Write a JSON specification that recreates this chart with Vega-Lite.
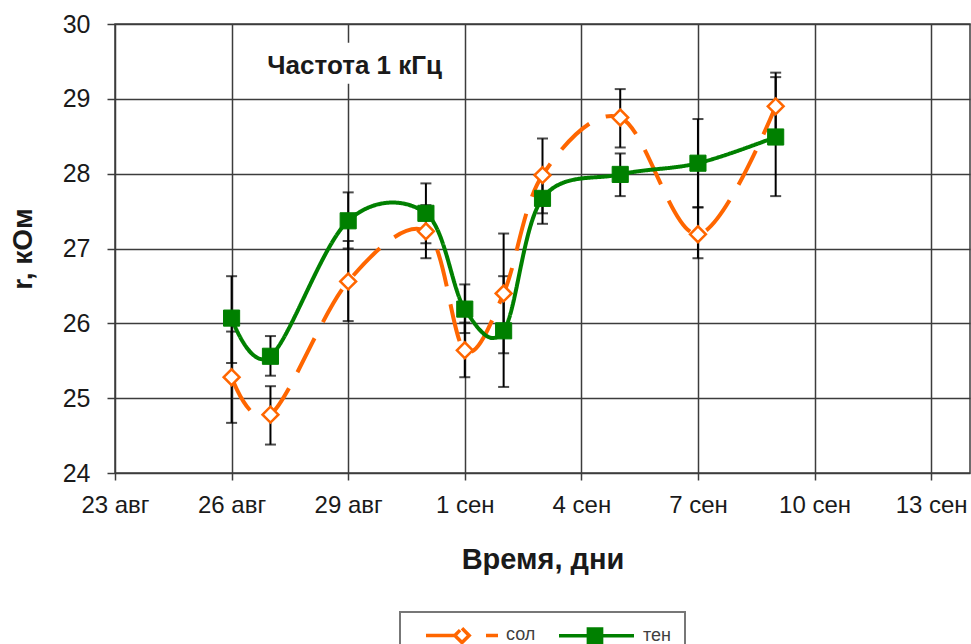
{
  "$schema": "https://vega.github.io/schema/vega-lite/v6.json",
  "width": 855,
  "height": 449,
  "autosize": {"type": "none"},
  "padding": {"left": 115, "top": 24, "right": 1, "bottom": 171},
  "background": "white",
  "config": {
    "font": "Liberation Sans",
    "view": {"stroke": "#3c3c3c", "strokeWidth": 1.5},
    "axis": {
      "gridColor": "#3c3c3c", "gridWidth": 1.5, "gridOpacity": 1, "domain": false,
      "tickColor": "#3c3c3c", "tickWidth": 1.5, "tickSize": 7,
      "labelColor": "#1a1a1a", "titleColor": "#1a1a1a",
      "labelFont": "Liberation Sans", "titleFont": "Liberation Sans"
    }
  },
  "datasets": {
    "pts": [
      {"date": "2009-08-26T00:00:00Z", "series": "сол", "r": 25.28, "lo": 24.67, "hi": 25.89},
      {"date": "2009-08-27T00:00:00Z", "series": "сол", "r": 24.78, "lo": 24.38, "hi": 25.16},
      {"date": "2009-08-29T00:00:00Z", "series": "сол", "r": 26.56, "lo": 26.03, "hi": 27.10},
      {"date": "2009-08-31T00:00:00Z", "series": "сол", "r": 27.23, "lo": 26.87, "hi": 27.58},
      {"date": "2009-09-01T00:00:00Z", "series": "сол", "r": 25.64, "lo": 25.28, "hi": 26.01},
      {"date": "2009-09-02T00:00:00Z", "series": "сол", "r": 26.40, "lo": 25.60, "hi": 27.20},
      {"date": "2009-09-03T00:00:00Z", "series": "сол", "r": 27.98, "lo": 27.47, "hi": 28.47},
      {"date": "2009-09-05T00:00:00Z", "series": "сол", "r": 28.75, "lo": 28.35, "hi": 29.13},
      {"date": "2009-09-07T00:00:00Z", "series": "сол", "r": 27.19, "lo": 26.87, "hi": 27.55},
      {"date": "2009-09-09T00:00:00Z", "series": "сол", "r": 28.90, "lo": 28.51, "hi": 29.29},
      {"date": "2009-08-26T00:00:00Z", "series": "тен", "r": 26.07, "lo": 25.47, "hi": 26.63},
      {"date": "2009-08-27T00:00:00Z", "series": "тен", "r": 25.56, "lo": 25.30, "hi": 25.83},
      {"date": "2009-08-29T00:00:00Z", "series": "тен", "r": 27.37, "lo": 27.00, "hi": 27.75},
      {"date": "2009-08-31T00:00:00Z", "series": "тен", "r": 27.47, "lo": 27.07, "hi": 27.87},
      {"date": "2009-09-01T00:00:00Z", "series": "тен", "r": 26.19, "lo": 25.87, "hi": 26.52},
      {"date": "2009-09-02T00:00:00Z", "series": "тен", "r": 25.90, "lo": 25.15, "hi": 26.63},
      {"date": "2009-09-03T00:00:00Z", "series": "тен", "r": 27.67, "lo": 27.33, "hi": 28.01},
      {"date": "2009-09-05T00:00:00Z", "series": "тен", "r": 27.99, "lo": 27.70, "hi": 28.27},
      {"date": "2009-09-07T00:00:00Z", "series": "тен", "r": 28.14, "lo": 27.55, "hi": 28.73},
      {"date": "2009-09-09T00:00:00Z", "series": "тен", "r": 28.49, "lo": 27.70, "hi": 29.35}
    ],
    "note": [
      {"date": "2009-08-29T04:00:00Z", "r": 29.33, "label": "Частота 1 кГц",
       "x0": "2009-08-26T20:40:00Z", "x1": "2009-08-31T11:30:00Z", "y0": 29.2, "y1": 29.75}
    ]
  },
  "layer": [
    {
      "data": {"name": "note"},
      "mark": {"type": "rect", "fill": "white"},
      "encoding": {
        "x": {"field": "x0", "type": "temporal", "title": "Время, дни",
              "scale": {"type": "utc", "domain": [{"year": 2009, "month": 8, "date": 23, "utc": true}, {"year": 2009, "month": 9, "date": 14, "utc": true}]},
              "axis": {"values": [{"year": 2009, "month": 8, "date": 23, "utc": true}, {"year": 2009, "month": 8, "date": 26, "utc": true}, {"year": 2009, "month": 8, "date": 29, "utc": true}, {"year": 2009, "month": 9, "date": 1, "utc": true}, {"year": 2009, "month": 9, "date": 4, "utc": true}, {"year": 2009, "month": 9, "date": 7, "utc": true}, {"year": 2009, "month": 9, "date": 10, "utc": true}, {"year": 2009, "month": 9, "date": 13, "utc": true}],
                       "labelExpr": "utcdate(datum.value) + (utcmonth(datum.value) == 7 ? ' авг' : ' сен')",
                       "labelFontSize": 24, "labelBaseline": "alphabetic", "labelPadding": 32, "labelFlush": false, "labelOverlap": false,
                       "titleFontSize": 29, "titleFontWeight": "bold", "titleY": 95, "titleBaseline": "alphabetic", "grid": true}},
        "x2": {"field": "x1"},
        "y": {"field": "y0", "type": "quantitative", "title": "r, кОм",
              "scale": {"domain": [24, 30], "nice": false, "zero": false},
              "axis": {"values": [24, 25, 26, 27, 28, 29, 30], "labelFontSize": 25, "labelPadding": 17, "tickSize": 8,
                       "titleFontSize": 28, "titleFontWeight": "bold", "titleX": -84, "titleY": 224.5, "titleBaseline": "alphabetic", "titleAngle": 270, "grid": true}},
        "y2": {"field": "y1"}
      }
    },
    {
      "data": {"name": "note"},
      "mark": {"type": "text", "fontSize": 26, "fontWeight": "bold", "align": "center", "baseline": "alphabetic", "color": "#1a1a1a", "font": "Liberation Sans"},
      "encoding": {
        "x": {"field": "date", "type": "temporal", "title": "Время, дни",
              "scale": {"type": "utc", "domain": [{"year": 2009, "month": 8, "date": 23, "utc": true}, {"year": 2009, "month": 9, "date": 14, "utc": true}]},
              "axis": {"values": [{"year": 2009, "month": 8, "date": 23, "utc": true}, {"year": 2009, "month": 8, "date": 26, "utc": true}, {"year": 2009, "month": 8, "date": 29, "utc": true}, {"year": 2009, "month": 9, "date": 1, "utc": true}, {"year": 2009, "month": 9, "date": 4, "utc": true}, {"year": 2009, "month": 9, "date": 7, "utc": true}, {"year": 2009, "month": 9, "date": 10, "utc": true}, {"year": 2009, "month": 9, "date": 13, "utc": true}],
                       "labelExpr": "utcdate(datum.value) + (utcmonth(datum.value) == 7 ? ' авг' : ' сен')",
                       "labelFontSize": 24, "labelBaseline": "alphabetic", "labelPadding": 32, "labelFlush": false, "labelOverlap": false,
                       "titleFontSize": 29, "titleFontWeight": "bold", "titleY": 95, "titleBaseline": "alphabetic", "grid": true}},
        "y": {"field": "r", "type": "quantitative", "title": "r, кОм",
              "scale": {"domain": [24, 30], "nice": false, "zero": false},
              "axis": {"values": [24, 25, 26, 27, 28, 29, 30], "labelFontSize": 25, "labelPadding": 17, "tickSize": 8,
                       "titleFontSize": 28, "titleFontWeight": "bold", "titleX": -84, "titleY": 224.5, "titleBaseline": "alphabetic", "titleAngle": 270, "grid": true}},
        "text": {"field": "label"}
      }
    },
    {
      "data": {"name": "pts"},
      "mark": {"type": "errorbar", "color": "black", "thickness": 2, "ticks": {"size": 11, "thickness": 2, "color": "black"}},
      "encoding": {
        "x": {"field": "date", "type": "temporal", "title": "Время, дни",
              "scale": {"type": "utc", "domain": [{"year": 2009, "month": 8, "date": 23, "utc": true}, {"year": 2009, "month": 9, "date": 14, "utc": true}]},
              "axis": {"values": [{"year": 2009, "month": 8, "date": 23, "utc": true}, {"year": 2009, "month": 8, "date": 26, "utc": true}, {"year": 2009, "month": 8, "date": 29, "utc": true}, {"year": 2009, "month": 9, "date": 1, "utc": true}, {"year": 2009, "month": 9, "date": 4, "utc": true}, {"year": 2009, "month": 9, "date": 7, "utc": true}, {"year": 2009, "month": 9, "date": 10, "utc": true}, {"year": 2009, "month": 9, "date": 13, "utc": true}],
                       "labelExpr": "utcdate(datum.value) + (utcmonth(datum.value) == 7 ? ' авг' : ' сен')",
                       "labelFontSize": 24, "labelBaseline": "alphabetic", "labelPadding": 32, "labelFlush": false, "labelOverlap": false,
                       "titleFontSize": 29, "titleFontWeight": "bold", "titleY": 95, "titleBaseline": "alphabetic", "grid": true}},
        "y": {"field": "lo", "type": "quantitative", "title": "r, кОм",
              "scale": {"domain": [24, 30], "nice": false, "zero": false},
              "axis": {"values": [24, 25, 26, 27, 28, 29, 30], "labelFontSize": 25, "labelPadding": 17, "tickSize": 8,
                       "titleFontSize": 28, "titleFontWeight": "bold", "titleX": -84, "titleY": 224.5, "titleBaseline": "alphabetic", "titleAngle": 270, "grid": true}},
        "y2": {"field": "hi"},
        "detail": {"field": "series", "type": "nominal"}
      }
    },
    {
      "data": {"name": "pts"},
      "mark": {"type": "line", "interpolate": "cardinal", "tension": 0, "strokeWidth": 4, "strokeCap": "butt"},
      "encoding": {
        "x": {"field": "date", "type": "temporal", "title": "Время, дни",
              "scale": {"type": "utc", "domain": [{"year": 2009, "month": 8, "date": 23, "utc": true}, {"year": 2009, "month": 9, "date": 14, "utc": true}]},
              "axis": {"values": [{"year": 2009, "month": 8, "date": 23, "utc": true}, {"year": 2009, "month": 8, "date": 26, "utc": true}, {"year": 2009, "month": 8, "date": 29, "utc": true}, {"year": 2009, "month": 9, "date": 1, "utc": true}, {"year": 2009, "month": 9, "date": 4, "utc": true}, {"year": 2009, "month": 9, "date": 7, "utc": true}, {"year": 2009, "month": 9, "date": 10, "utc": true}, {"year": 2009, "month": 9, "date": 13, "utc": true}],
                       "labelExpr": "utcdate(datum.value) + (utcmonth(datum.value) == 7 ? ' авг' : ' сен')",
                       "labelFontSize": 24, "labelBaseline": "alphabetic", "labelPadding": 32, "labelFlush": false, "labelOverlap": false,
                       "titleFontSize": 29, "titleFontWeight": "bold", "titleY": 95, "titleBaseline": "alphabetic", "grid": true}},
        "y": {"field": "r", "type": "quantitative", "title": "r, кОм",
              "scale": {"domain": [24, 30], "nice": false, "zero": false},
              "axis": {"values": [24, 25, 26, 27, 28, 29, 30], "labelFontSize": 25, "labelPadding": 17, "tickSize": 8,
                       "titleFontSize": 28, "titleFontWeight": "bold", "titleX": -84, "titleY": 224.5, "titleBaseline": "alphabetic", "titleAngle": 270, "grid": true}},
        "color": {"field": "series", "type": "nominal",
                  "scale": {"domain": ["сол", "тен"], "range": ["#FF6600", "#008000"]},
                  "legend": {"orient": "none", "legendX": 285, "legendY": 588, "direction": "horizontal", "columns": 2,
                             "title": null, "strokeColor": "#777777", "padding": 14,
                             "symbolType": "M-6,0H6", "symbolSize": 144, "labelOffset": 74, "columnPadding": 15,
                             "labelFont": "Liberation Sans", "labelFontSize": 18, "labelColor": "#404040",
                             "encode": {
                               "legend": {"update": {"strokeWidth": {"value": 2}}},
                               "symbols": {"update": {
                                 "shape": {"signal": "datum.value === 'сол' ? 'M0.5,0H5.3M10.5,0H12.5M6.5,-1.2L7.7,0L6.5,1.2L5.3,0Z' : 'M-0.17,0H12.33M4.73,-1.1H6.93V1.1H4.73Z'"},
                                 "fill": {"signal": "datum.value === 'сол' ? 'white' : '#008000'"},
                                 "stroke": {"signal": "datum.value === 'сол' ? '#FF6600' : '#008000'"},
                                 "strokeWidth": {"value": 3.5},
                                 "strokeDash": {"value": [1, 0]},
                                 "opacity": {"value": 1},
                                 "fillOpacity": {"value": 1}
                               }}
                             }}},
        "strokeDash": {"field": "series", "type": "nominal",
                       "scale": {"domain": ["сол", "тен"], "range": [[38, 18], [1, 0]]}, "legend": null}
      }
    },
    {
      "data": {"name": "pts"},
      "transform": [{"filter": "datum.series === 'сол'"}],
      "mark": {"type": "point", "shape": "diamond", "filled": true, "fill": "white", "stroke": "#FF6600", "opacity": 1, "fillOpacity": 1, "strokeWidth": 2.5, "size": 250},
      "encoding": {
        "x": {"field": "date", "type": "temporal", "title": "Время, дни",
              "scale": {"type": "utc", "domain": [{"year": 2009, "month": 8, "date": 23, "utc": true}, {"year": 2009, "month": 9, "date": 14, "utc": true}]},
              "axis": {"values": [{"year": 2009, "month": 8, "date": 23, "utc": true}, {"year": 2009, "month": 8, "date": 26, "utc": true}, {"year": 2009, "month": 8, "date": 29, "utc": true}, {"year": 2009, "month": 9, "date": 1, "utc": true}, {"year": 2009, "month": 9, "date": 4, "utc": true}, {"year": 2009, "month": 9, "date": 7, "utc": true}, {"year": 2009, "month": 9, "date": 10, "utc": true}, {"year": 2009, "month": 9, "date": 13, "utc": true}],
                       "labelExpr": "utcdate(datum.value) + (utcmonth(datum.value) == 7 ? ' авг' : ' сен')",
                       "labelFontSize": 24, "labelBaseline": "alphabetic", "labelPadding": 32, "labelFlush": false, "labelOverlap": false,
                       "titleFontSize": 29, "titleFontWeight": "bold", "titleY": 95, "titleBaseline": "alphabetic", "grid": true}},
        "y": {"field": "r", "type": "quantitative", "title": "r, кОм",
              "scale": {"domain": [24, 30], "nice": false, "zero": false},
              "axis": {"values": [24, 25, 26, 27, 28, 29, 30], "labelFontSize": 25, "labelPadding": 17, "tickSize": 8,
                       "titleFontSize": 28, "titleFontWeight": "bold", "titleX": -84, "titleY": 224.5, "titleBaseline": "alphabetic", "titleAngle": 270, "grid": true}}
      }
    },
    {
      "data": {"name": "pts"},
      "transform": [{"filter": "datum.series === 'тен'"}],
      "mark": {"type": "point", "shape": "square", "filled": true, "fill": "#008000", "stroke": "#008000", "opacity": 1, "fillOpacity": 1, "strokeWidth": 1, "size": 260},
      "encoding": {
        "x": {"field": "date", "type": "temporal", "title": "Время, дни",
              "scale": {"type": "utc", "domain": [{"year": 2009, "month": 8, "date": 23, "utc": true}, {"year": 2009, "month": 9, "date": 14, "utc": true}]},
              "axis": {"values": [{"year": 2009, "month": 8, "date": 23, "utc": true}, {"year": 2009, "month": 8, "date": 26, "utc": true}, {"year": 2009, "month": 8, "date": 29, "utc": true}, {"year": 2009, "month": 9, "date": 1, "utc": true}, {"year": 2009, "month": 9, "date": 4, "utc": true}, {"year": 2009, "month": 9, "date": 7, "utc": true}, {"year": 2009, "month": 9, "date": 10, "utc": true}, {"year": 2009, "month": 9, "date": 13, "utc": true}],
                       "labelExpr": "utcdate(datum.value) + (utcmonth(datum.value) == 7 ? ' авг' : ' сен')",
                       "labelFontSize": 24, "labelBaseline": "alphabetic", "labelPadding": 32, "labelFlush": false, "labelOverlap": false,
                       "titleFontSize": 29, "titleFontWeight": "bold", "titleY": 95, "titleBaseline": "alphabetic", "grid": true}},
        "y": {"field": "r", "type": "quantitative", "title": "r, кОм",
              "scale": {"domain": [24, 30], "nice": false, "zero": false},
              "axis": {"values": [24, 25, 26, 27, 28, 29, 30], "labelFontSize": 25, "labelPadding": 17, "tickSize": 8,
                       "titleFontSize": 28, "titleFontWeight": "bold", "titleX": -84, "titleY": 224.5, "titleBaseline": "alphabetic", "titleAngle": 270, "grid": true}}
      }
    }
  ]
}
